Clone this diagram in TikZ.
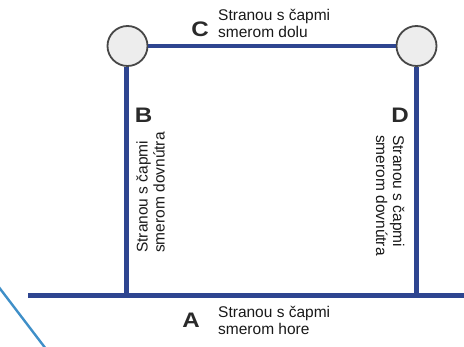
\documentclass[tikz,border=0pt]{standalone}
\usepackage{fontspec}
\setmainfont{Liberation Sans}
\begin{document}
\begin{tikzpicture}[x=1pt,y=-1pt,
  beam/.style={draw=beamblue,line width=4.5pt},
  joint/.style={circle,draw=jointgrey,fill=jointfill,line width=1.8pt,minimum size=40pt,inner sep=0pt},
  bigletter/.style={font=\fontsize{21}{21}\selectfont\bfseries,text=lettergrey,inner sep=0pt,xscale=1.15},
  desc/.style={font=\fontsize{15.5}{17}\selectfont,align=left,inner sep=0pt,text=black!90}]
\definecolor{beamblue}{HTML}{2E4590}
\definecolor{jointgrey}{HTML}{474747}
\definecolor{jointfill}{HTML}{EDEDED}
\definecolor{lettergrey}{HTML}{2A2A2A}
\definecolor{diagblue}{HTML}{3F8FC8}
\useasboundingbox (0,0) rectangle (464,347);
% nodes / coordinates
\node[joint] (jl) at (127.5,46) {};
\node[joint] (jr) at (416.5,46) {};
\coordinate (bl) at (126.5,295.3);
\coordinate (br) at (416.5,295.3);
\coordinate (bs) at (28,295.3);
\coordinate (be) at (464,295.3);
\coordinate (d1) at (-2,286);
\coordinate (d2) at (46,349);
% beams
\draw[draw=diagblue,line width=2.4pt] (d1) -- (d2);
\draw[beam] (bs) -- (be);
\draw[beam] (jl.south -| bl) -- (bl);
\draw[beam] (jr.south -| br) -- (br);
\draw[beam] (jl.east) -- (jr.west);
% labels
\node[bigletter] (lc) at (200,29.5) {C};
\node[desc,anchor=base west] (tc) at (218,38) {Stranou s čapmi\\smerom dolu};
\node[bigletter] (la) at (191,320.5) {A};
\node[desc,anchor=base west] (ta) at (218,335) {Stranou s čapmi\\smerom hore};
\node[bigletter] (lb) at (143.5,115.5) {B};
\node[desc,anchor=base west,rotate=90] (tb) at (164.5,253) {Stranou s čapmi\\smerom dovnútra};
\node[bigletter] (ld) at (400,115) {D};
\node[desc,anchor=base west,rotate=-90] (td) at (376,135) {Stranou s čapmi\\smerom dovnútra};
\end{tikzpicture}
\end{document}
